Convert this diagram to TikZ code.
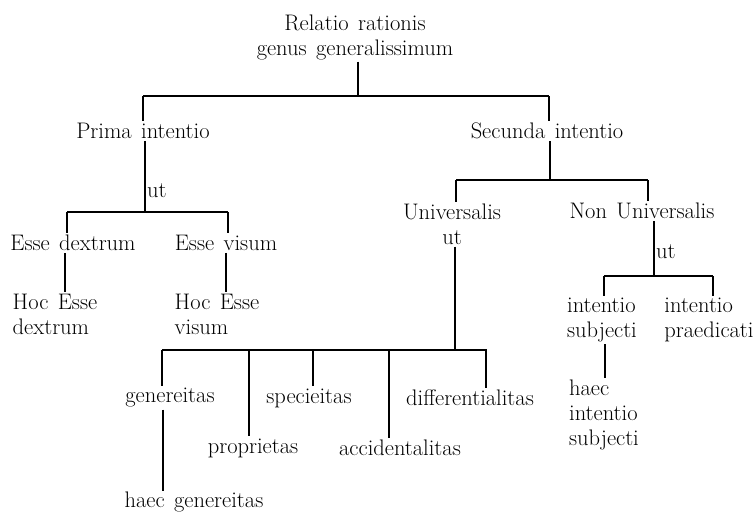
\documentclass[tikz,border=0pt]{standalone}
\usepackage{fontspec}
\begin{document}
\begin{tikzpicture}
           [x=1pt,y=-1pt,line width=1.2pt,
            every node/.style={inner sep=1.5pt,font={\fontsize{22.5}{25}\selectfont\spaceskip=.42em\relax}},
            lft/.style={align=left},
            ctr/.style={align=center}]
           \useasboundingbox (0,0) rectangle (756,515);

           \node[ctr] (root) at (355,37) {Relatio rationis\\genus generalissimum};

           \node (prima) at (143,131) {Prima intentio};
           \node (secunda) at (547,131) {Secunda intentio};

           \node (edex) at (73,243) {Esse dextrum};
           \node (evis) at (226,243) {Esse visum};
           \node[lft] (hocd) at (55,314) {Hoc Esse\\dextrum};
           \node[lft] (hocv) at (217,314) {Hoc Esse\\visum};

           \node[ctr] (univ) at (452,224) {Universalis\\ut};
           \node (nonu) at (642,211) {Non Universalis};

           \node (gen) at (170,398) {genereitas};
           \node (prop) at (253,448) {proprietas};
           \node (spec) at (309,398) {specieitas};
           \node (acc) at (400,448) {accidentalitas};
           \node (diff) at (470,398) {differentialitas};
           \node[inner sep=0.5pt] (haecg) at (194,502) {haec genereitas};

           \node[lft] (insub) at (602,320) {intentio\\subjecti};
           \node[lft] (inpr) at (709,320) {intentio\\praedicati};
           \node[lft] (haecis) at (604,415) {haec\\intentio\\subjecti};

           \coordinate (b0l) at (143,96);
           \coordinate (b0m) at (358,96);
           \coordinate (b0r) at (549,96);
           \draw (b0l) -- (b0r);
           \draw (b0m |- root.south) -- (b0m);
           \draw (b0l) -- (b0l |- prima.north);
           \draw (b0r) -- (b0r |- secunda.north);

           \coordinate (b1l) at (67,212);
           \coordinate (b1m) at (145,212);
           \coordinate (b1r) at (228,212);
           \draw (b1l) -- (b1r);
           \draw (b1m |- prima.south) -- (b1m) node[pos=0.7,right] {ut};
           \draw (b1l) -- (b1l |- edex.north);
           \draw (b1r) -- (b1r |- evis.north);

           \coordinate (l1) at (65,0);
           \coordinate (l2) at (226,0);
           \draw (l1 |- edex.south) -- (l1 |- hocd.north);
           \draw (l2 |- evis.south) -- (l2 |- hocv.north);

           \coordinate (b2l) at (456,180);
           \coordinate (b2m) at (550,180);
           \coordinate (b2r) at (648,180);
           \draw (b2l) -- (b2r);
           \draw (b2m |- secunda.south) -- (b2m);
           \draw (b2l) -- (b2l |- univ.north);
           \draw (b2r) -- (b2r |- nonu.north);

           \coordinate (b3l) at (604,276);
           \coordinate (b3m) at (654,276);
           \coordinate (b3r) at (713,276);
           \draw (b3l) -- (b3r);
           \draw (b3m |- nonu.south) -- (b3m) node[pos=0.55,right] {ut};
           \draw (b3l) -- (b3l |- insub.north);
           \draw (b3r) -- (b3r |- inpr.north);

           \coordinate (l3) at (605,0);
           \draw (l3 |- insub.south) -- (l3 |- haecis.north);

           \coordinate (b4l) at (162,350);
           \coordinate (b4m) at (455,350);
           \coordinate (b4r) at (487,350);
           \draw (b4l) -- (b4r);
           \draw (b4m |- univ.south) -- (b4m);
           \foreach \t/\x in {gen/162,prop/249,spec/313,acc/389,diff/486}
           {
             \coordinate (k) at (\x,350);
             \draw (k) -- (k |- \t.north);
           }

           \coordinate (l4) at (163,0);
           \draw (l4 |- gen.south) -- (l4 |- haecg.north);
         \end{tikzpicture}
\end{document}
